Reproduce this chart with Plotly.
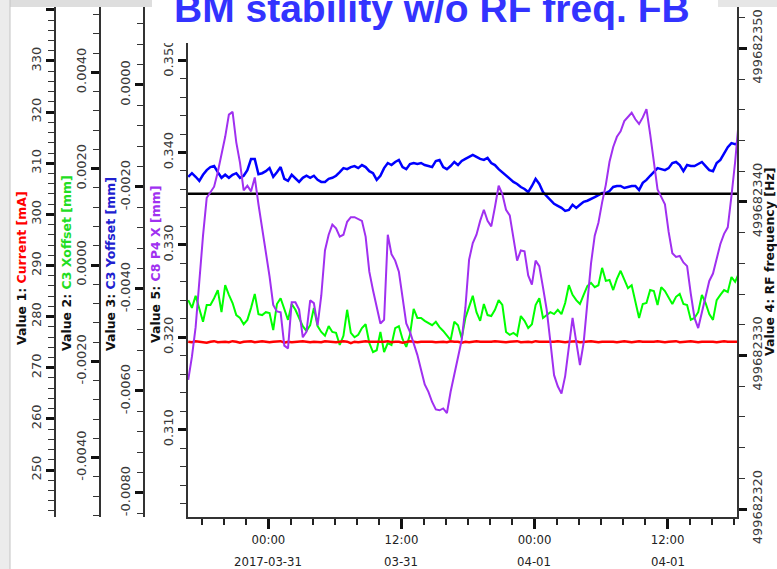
import pandas as pd
import plotly.graph_objects as go

# ---------------- data (one sample every 20 minutes) ----------------
t_start = "2017-03-30 16:46"
n_samples = 150
sample_step = "20min"

current_mA = [
    275.1, 275.0, 275.2, 275.1, 275.1, 274.9, 275.1, 275.2, 275.0, 275.1,
    275.1, 275.0, 275.2, 275.1, 274.9, 275.1, 275.1, 275.2, 275.0, 275.1,
    275.2, 275.1, 275.0, 275.1, 275.1, 275.2, 274.9, 275.1, 275.0, 275.1,
    275.1, 275.2, 275.1, 275.0, 275.1, 275.1, 275.0, 275.2, 275.1, 275.1,
    275.0, 275.1, 275.2, 275.1, 274.8, 275.1, 275.0, 275.1, 275.2, 275.1,
    275.1, 275.0, 275.1, 275.1, 275.2, 275.0, 275.1, 275.1, 274.9, 275.1,
    275.2, 275.1, 275.0, 275.1, 275.1, 275.2, 275.1, 275.0, 275.1, 275.1,
    275.0, 275.2, 275.1, 275.1, 274.9, 275.1, 275.0, 275.1, 275.2, 275.1,
    275.1, 275.0, 275.1, 275.2, 275.1, 275.1, 275.0, 275.1, 275.1, 275.2,
    275.0, 275.1, 275.1, 275.0, 275.2, 275.1, 275.1, 275.0, 275.1, 275.1,
    275.2, 275.1, 275.0, 275.1, 275.1, 275.2, 275.0, 275.1, 275.1, 275.2,
    275.1, 275.0, 275.1, 275.1, 275.2, 275.1, 275.0, 275.1, 275.2, 275.1,
    275.0, 275.1, 275.2, 275.1, 275.1, 275.0, 275.1, 275.2, 275.1, 275.0,
    275.1, 275.1, 275.2, 275.0, 275.1, 275.1, 275.2, 275.1, 275.0, 275.1,
    275.1, 275.2, 275.1, 275.0, 275.1, 275.2, 275.1, 275.1, 275.0, 275.1,
]

c3_xoffset_mm = [
    -0.00073, -0.00089, -0.00064, -0.00093, -0.00118, -0.00083, -0.00083, -0.00069, -0.00052, -0.00098,
    -0.00042, -0.00062, -0.00079, -0.00104, -0.00110, -0.00123, -0.00114, -0.00089, -0.00060, -0.00102,
    -0.00104, -0.00098, -0.00100, -0.00135, -0.00081, -0.00069, -0.00093, -0.00114, -0.00081, -0.00093,
    -0.00110, -0.00127, -0.00137, -0.00125, -0.00089, -0.00127, -0.00139, -0.00147, -0.00127, -0.00139,
    -0.00141, -0.00166, -0.00147, -0.00093, -0.00141, -0.00150, -0.00145, -0.00131, -0.00123, -0.00162,
    -0.00181, -0.00177, -0.00139, -0.00181, -0.00162, -0.00166, -0.00131, -0.00127, -0.00154, -0.00170,
    -0.00145, -0.00091, -0.00110, -0.00110, -0.00116, -0.00120, -0.00125, -0.00118, -0.00129, -0.00137,
    -0.00147, -0.00156, -0.00118, -0.00125, -0.00152, -0.00110, -0.00087, -0.00064, -0.00098, -0.00116,
    -0.00081, -0.00104, -0.00106, -0.00093, -0.00073, -0.00083, -0.00139, -0.00145, -0.00141, -0.00147,
    -0.00106, -0.00116, -0.00131, -0.00123, -0.00083, -0.00069, -0.00110, -0.00104, -0.00098, -0.00102,
    -0.00093, -0.00102, -0.00079, -0.00042, -0.00062, -0.00073, -0.00081, -0.00062, -0.00044, -0.00037,
    -0.00046, -0.00042, -0.00006, -0.00033, -0.00031, -0.00052, -0.00029, -0.00012, -0.00031, -0.00048,
    -0.00042, -0.00077, -0.00110, -0.00081, -0.00079, -0.00052, -0.00054, -0.00083, -0.00046, -0.00054,
    -0.00069, -0.00081, -0.00066, -0.00060, -0.00081, -0.00083, -0.00114, -0.00110, -0.00098, -0.00062,
    -0.00079, -0.00102, -0.00114, -0.00073, -0.00062, -0.00052, -0.00056, -0.00025, -0.00035, -0.00017,
]

c3_yoffset_mm = [
    -0.00180, -0.00173, -0.00180, -0.00188, -0.00176, -0.00167, -0.00161, -0.00159, -0.00171, -0.00182,
    -0.00176, -0.00182, -0.00176, -0.00173, -0.00182, -0.00178, -0.00167, -0.00145, -0.00145, -0.00175,
    -0.00173, -0.00169, -0.00163, -0.00180, -0.00171, -0.00161, -0.00184, -0.00188, -0.00176, -0.00184,
    -0.00190, -0.00182, -0.00178, -0.00182, -0.00178, -0.00186, -0.00190, -0.00190, -0.00184, -0.00182,
    -0.00178, -0.00171, -0.00163, -0.00165, -0.00161, -0.00159, -0.00163, -0.00157, -0.00161, -0.00169,
    -0.00173, -0.00186, -0.00178, -0.00163, -0.00153, -0.00157, -0.00151, -0.00147, -0.00161, -0.00165,
    -0.00155, -0.00153, -0.00155, -0.00153, -0.00157, -0.00159, -0.00161, -0.00149, -0.00147, -0.00161,
    -0.00165, -0.00159, -0.00151, -0.00157, -0.00149, -0.00145, -0.00141, -0.00137, -0.00141, -0.00145,
    -0.00147, -0.00143, -0.00153, -0.00157, -0.00165, -0.00171, -0.00178, -0.00184, -0.00190, -0.00194,
    -0.00200, -0.00204, -0.00210, -0.00198, -0.00184, -0.00194, -0.00210, -0.00218, -0.00225, -0.00233,
    -0.00237, -0.00241, -0.00247, -0.00245, -0.00235, -0.00241, -0.00235, -0.00229, -0.00227, -0.00224,
    -0.00220, -0.00216, -0.00212, -0.00212, -0.00208, -0.00200, -0.00198, -0.00198, -0.00202, -0.00200,
    -0.00198, -0.00198, -0.00206, -0.00192, -0.00186, -0.00178, -0.00171, -0.00163, -0.00165, -0.00167,
    -0.00163, -0.00153, -0.00151, -0.00157, -0.00169, -0.00157, -0.00159, -0.00159, -0.00155, -0.00151,
    -0.00159, -0.00167, -0.00169, -0.00153, -0.00147, -0.00135, -0.00122, -0.00114, -0.00116, -0.00114,
]

c8_p4_x_mm = [
    0.3154, 0.3179, 0.3211, 0.3264, 0.3310, 0.3351, 0.3357, 0.3363, 0.3379, 0.3397,
    0.3417, 0.3441, 0.3444, 0.3411, 0.3389, 0.3359, 0.3364, 0.3358, 0.3373, 0.3344,
    0.3318, 0.3294, 0.3266, 0.3235, 0.3228, 0.3227, 0.3191, 0.3188, 0.3238, 0.3238,
    0.3230, 0.3200, 0.3206, 0.3240, 0.3237, 0.3213, 0.3245, 0.3294, 0.3311, 0.3322,
    0.3318, 0.3309, 0.3311, 0.3325, 0.3330, 0.3330, 0.3328, 0.3326, 0.3309, 0.3271,
    0.3251, 0.3233, 0.3215, 0.3219, 0.3311, 0.3290, 0.3283, 0.3271, 0.3240, 0.3215,
    0.3206, 0.3193, 0.3181, 0.3165, 0.3149, 0.3141, 0.3130, 0.3122, 0.3121, 0.3123,
    0.3118, 0.3141, 0.3161, 0.3177, 0.3197, 0.3232, 0.3284, 0.3302, 0.3311, 0.3326,
    0.3338, 0.3326, 0.3320, 0.3341, 0.3364, 0.3355, 0.3338, 0.3332, 0.3305, 0.3283,
    0.3294, 0.3293, 0.3267, 0.3257, 0.3283, 0.3277, 0.3254, 0.3230, 0.3195, 0.3159,
    0.3147, 0.3139, 0.3158, 0.3193, 0.3221, 0.3195, 0.3170, 0.3194, 0.3240, 0.3280,
    0.3310, 0.3324, 0.3346, 0.3365, 0.3390, 0.3406, 0.3417, 0.3423, 0.3434, 0.3438,
    0.3443, 0.3436, 0.3431, 0.3438, 0.3447, 0.3420, 0.3392, 0.3360, 0.3352, 0.3344,
    0.3314, 0.3291, 0.3287, 0.3288, 0.3281, 0.3277, 0.3247, 0.3221, 0.3210, 0.3227,
    0.3247, 0.3261, 0.3269, 0.3285, 0.3301, 0.3312, 0.3319, 0.3353, 0.3390, 0.3435,
]

rf_time = ["2017-03-30 16:42", "2017-04-01 18:16"]
rf_freq_hz = [499682340.54, 499682340.54]

x_range = ["2017-03-30 16:42", "2017-04-01 18:16"]
x_tick_vals = ["2017-03-31 00:00", "2017-03-31 12:00", "2017-04-01 00:00", "2017-04-01 12:00"]
x_tick_time = ["00:00", "12:00", "00:00", "12:00"]
x_tick_date = ["2017-03-31", "03-31", "04-01", "04-01"]

cur_ticks = [250, 260, 270, 280, 290, 300, 310, 320, 330, 340]
cur_ticktext = ["250", "260", "270", "280", "290", "300", "310", "320", "330", "340"]
xoff_ticks = [-0.004, -0.002, 0.0, 0.002, 0.004]
xoff_ticktext = ["-0.0040", "-0.0020", "0.0000", "0.0020", "0.0040"]
yoff_ticks = [-0.008, -0.006, -0.004, -0.002, 0.0]
yoff_ticktext = ["-0.0080", "-0.0060", "-0.0040", "-0.0020", "0.0000"]
p4_ticks = [0.31, 0.32, 0.33, 0.34, 0.35]
p4_ticktext = ["0.310", "0.320", "0.330", "0.340", "0.350"]
rf_ticks = [499682320, 499682330, 499682340, 499682350]
rf_ticktext = ["499682320", "499682330", "499682340", "499682350"]

# ---------------- layout helpers ----------------
W, H = 777, 569


def px(xp):
    return xp / W


def py(yp):
    return 1 - yp / H


times = pd.date_range(t_start, periods=n_samples, freq=sample_step)
ydom = [py(517), py(7)]

tickfont = dict(family="DejaVu Sans, Verdana, sans-serif", size=13, color="#3a3a3a")


def yaxis(rng, tv, tt, minor_dtick, **kw):
    d = dict(
        domain=ydom, range=rng, showgrid=False, zeroline=False, automargin=False,
        showline=True, linecolor="#333333", linewidth=1.5,
        ticks="outside", ticklen=8, tickwidth=3, tickcolor="#111111",
        tickangle=-90, tickfont=tickfont,
        tickmode="array", tickvals=tv, ticktext=tt,
        minor=dict(ticks="outside", ticklen=6, tickwidth=1, tickcolor="#333333",
                   tickmode="linear", tick0=0, dtick=minor_dtick),
    )
    d.update(kw)
    return d


fig = go.Figure()

fig.add_trace(go.Scatter(x=times, y=c3_xoffset_mm, mode="lines", yaxis="y",
                         line=dict(color="#00ff00", width=2), hoverinfo="skip"))
fig.add_trace(go.Scatter(x=times, y=current_mA, mode="lines", yaxis="y2",
                         line=dict(color="#ff0000", width=2.5), hoverinfo="skip"))
fig.add_trace(go.Scatter(x=times, y=c3_yoffset_mm, mode="lines", yaxis="y3",
                         line=dict(color="#0000ff", width=2.5), hoverinfo="skip"))
fig.add_trace(go.Scatter(x=rf_time, y=rf_freq_hz, mode="lines", yaxis="y4",
                         line=dict(color="#000000", width=2.5), hoverinfo="skip"))
fig.add_trace(go.Scatter(x=times, y=c8_p4_x_mm, mode="lines", yaxis="y5",
                         line=dict(color="#a030f0", width=2), hoverinfo="skip"))

fig.update_layout(
    width=W, height=H, autosize=False,
    margin=dict(l=0, r=0, t=0, b=0, pad=0, autoexpand=False),
    paper_bgcolor="white", plot_bgcolor="white",
    showlegend=False,
    xaxis=dict(
        domain=[px(187.5), px(737)], range=x_range, type="date", automargin=False,
        showgrid=False, zeroline=False, showline=True, linecolor="#333333", linewidth=1.5,
        ticks="outside", ticklen=10, tickwidth=3, tickcolor="#111111",
        tickmode="array", tickvals=x_tick_vals, ticktext=x_tick_time,
        tickfont=dict(family="Liberation Sans Narrow, DejaVu Sans Condensed, Liberation Sans, sans-serif",
                      size=13, color="#222222"),
        minor=dict(ticks="outside", ticklen=6, tickwidth=1.5, tickcolor="#222222",
                   tickmode="linear", tick0="2017-03-31 00:00", dtick=2 * 3600 * 1000),
    ),
    yaxis=yaxis([-0.0052335, 0.0053581], xoff_ticks, xoff_ticktext, 0.0004,
                anchor="free", position=px(100), side="left"),
    yaxis2=yaxis([240.81, 340.56], cur_ticks, cur_ticktext, 2,
                 anchor="free", position=px(55), side="left", overlaying="y"),
    yaxis3=yaxis([-0.008471, 0.001529], yoff_ticks, yoff_ticktext, 0.0004,
                 anchor="free", position=px(144), side="left", overlaying="y"),
    yaxis4=yaxis([499682319.48, 499682352.70], rf_ticks, rf_ticktext, 2,
                 anchor="x", side="right", overlaying="y"),
    yaxis5=yaxis([0.30055, 0.35575], p4_ticks, p4_ticktext, 0.002,
                 anchor="x", side="left", overlaying="y"),
)

# slide background pieces around the pasted screenshot
shapes = [
    dict(type="rect", xref="paper", yref="paper", x0=px(152), x1=px(718), y0=py(43), y1=1,
         fillcolor="white", line=dict(width=0), layer="above"),
    dict(type="rect", xref="paper", yref="paper", x0=px(10), x1=px(152), y0=py(7), y1=1,
         fillcolor="#dedede", line=dict(width=0), layer="above"),
    dict(type="rect", xref="paper", yref="paper", x0=px(718), x1=1, y0=py(7), y1=1,
         fillcolor="#e6e6e6", line=dict(width=0), layer="above"),
    dict(type="rect", xref="paper", yref="paper", x0=0, x1=px(10), y0=0, y1=1,
         fillcolor="#ececec", line=dict(width=0), layer="above"),
    dict(type="line", xref="paper", yref="paper", x0=px(10), x1=px(10), y0=0, y1=1,
         line=dict(color="#c4c4c4", width=1), layer="above"),
]
fig.update_layout(shapes=shapes)

title_font = dict(family="DejaVu Sans, Verdana, sans-serif", size=12.5, color="#111111")
annotations = [
    dict(text="BM stability w/o RF freq. FB", xref="paper", yref="paper",
         x=px(431.5), y=py(8.5), xanchor="center", yanchor="middle", showarrow=False,
         font=dict(family="Liberation Sans, Arial, sans-serif", size=39, color="#3333ff", weight="bold")),
    dict(text="<b>Value 1: <span style='color:#ff0000'>Current [mA]</span></b>",
         xref="paper", yref="paper", x=px(22), y=py(268), textangle=-90,
         xanchor="center", yanchor="middle", showarrow=False, font=title_font),
    dict(text="<b>Value 2: <span style='color:#22dd22'>C3 Xoffset [mm]</span></b>",
         xref="paper", yref="paper", x=px(66), y=py(263), textangle=-90,
         xanchor="center", yanchor="middle", showarrow=False, font=title_font),
    dict(text="<b>Value 3: <span style='color:#2020d0'>C3 Yoffset [mm]</span></b>",
         xref="paper", yref="paper", x=px(110), y=py(264), textangle=-90,
         xanchor="center", yanchor="middle", showarrow=False, font=title_font),
    dict(text="<b>Value 5: <span style='color:#a030f0'>C8 P4 X [mm]</span></b>",
         xref="paper", yref="paper", x=px(155), y=py(265), textangle=-90,
         xanchor="center", yanchor="middle", showarrow=False, font=title_font),
    dict(text="<b>Value 4: RF frequency [Hz]</b>",
         xref="paper", yref="paper", x=px(769), y=py(262), textangle=-90,
         xanchor="center", yanchor="middle", showarrow=False, font=title_font),
]
for tv, dl in zip(x_tick_vals, x_tick_date):
    annotations.append(dict(
        text=dl, xref="x", yref="paper", x=tv, y=py(561), xanchor="center", yanchor="middle",
        showarrow=False,
        font=dict(family="Liberation Sans Narrow, DejaVu Sans Condensed, Liberation Sans, sans-serif",
                  size=13, color="#222222")))
fig.update_layout(annotations=annotations)

fig.write_html("out.html", config={"responsive": False})
